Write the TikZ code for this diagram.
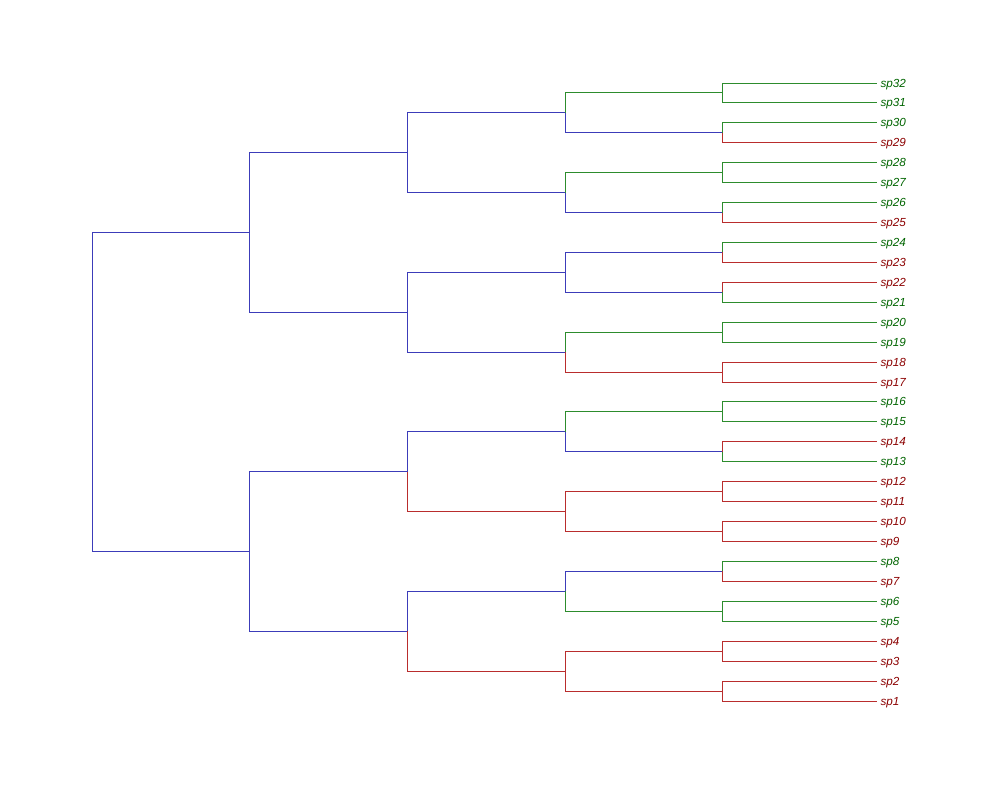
\documentclass[tikz,border=0pt]{standalone}
\usepackage{fontspec}
\setmainfont{Liberation Sans}
\definecolor{lnR}{RGB}{185,45,45}
\definecolor{lnG}{RGB}{45,140,45}
\definecolor{lnB}{RGB}{60,60,185}
\definecolor{txR}{RGB}{139,0,0}
\definecolor{txG}{RGB}{0,100,0}
\tikzset{
  edgeR/.style={draw=lnR},
  edgeG/.style={draw=lnG},
  edgeB/.style={draw=lnB},
  tipR/.style={text=txR},
  tipG/.style={text=txG},
  tiplabel/.style={anchor=base west,inner sep=0pt,xshift=3pt,yshift=-4pt,
    font=\fontsize{11.7}{14}\selectfont\itshape},
}
\begin{document}
\begin{tikzpicture}[x=1pt,y=-1pt,line width=1pt]
\useasboundingbox (0,0) rectangle (1000,800);
% tips
\foreach \i/\c in {1/R,2/R,3/R,4/R,5/G,6/G,7/R,8/G,9/R,10/R,11/R,12/R,13/G,14/R,15/G,16/G,
                   17/R,18/R,19/G,20/G,21/G,22/R,23/R,24/G,25/R,26/G,27/G,28/G,29/R,30/G,31/G,32/G}{
  \coordinate (t\i) at (877,{701-(\i-1)*19.935});
  \node[tiplabel,tip\c] (l\i) at (t\i) {sp\i};
}
% internal nodes
\foreach \k in {1,...,16}{\coordinate (m\k) at (722,{701-(2*\k-1.5)*19.935});}
\foreach \k in {1,...,8}{\coordinate (n\k) at (565,{701-(4*\k-2.5)*19.935});}
\foreach \k in {1,...,4}{\coordinate (p\k) at (407,{701-(8*\k-4.5)*19.935});}
\foreach \k in {1,2}{\coordinate (q\k) at (249,{701-(16*\k-8.5)*19.935});}
\coordinate (root) at (92,{701-15.5*19.935});
% edges: level 4 -> tips
\foreach \k/\a/\ca/\b/\cb in {1/1/R/2/R,2/3/R/4/R,3/5/G/6/G,4/7/R/8/G,5/9/R/10/R,6/11/R/12/R,
  7/13/G/14/R,8/15/G/16/G,9/17/R/18/R,10/19/G/20/G,11/21/G/22/R,12/23/R/24/G,
  13/25/R/26/G,14/27/G/28/G,15/29/R/30/G,16/31/G/32/G}{
  \draw[edge\ca] (m\k) |- (t\a);
  \draw[edge\cb] (m\k) |- (t\b);
}
% level 3 -> level 4
\foreach \k/\a/\ca/\b/\cb in {1/1/R/2/R,2/3/G/4/B,3/5/R/6/R,4/7/B/8/G,
  5/9/R/10/G,6/11/B/12/B,7/13/B/14/G,8/15/B/16/G}{
  \draw[edge\ca] (n\k) |- (m\a);
  \draw[edge\cb] (n\k) |- (m\b);
}
% level 2 -> level 3
\foreach \k/\a/\ca/\b/\cb in {1/1/R/2/B,2/3/R/4/B,3/5/B/6/B,4/7/B/8/B}{
  \draw[edge\ca] (p\k) |- (n\a);
  \draw[edge\cb] (p\k) |- (n\b);
}
% level 1 -> level 2
\foreach \k/\a/\ca/\b/\cb in {1/1/B/2/B,2/3/B/4/B}{
  \draw[edge\ca] (q\k) |- (p\a);
  \draw[edge\cb] (q\k) |- (p\b);
}
% root -> level 1
\draw[edgeB] (root) |- (q1);
\draw[edgeB] (root) |- (q2);
\end{tikzpicture}
\end{document}
